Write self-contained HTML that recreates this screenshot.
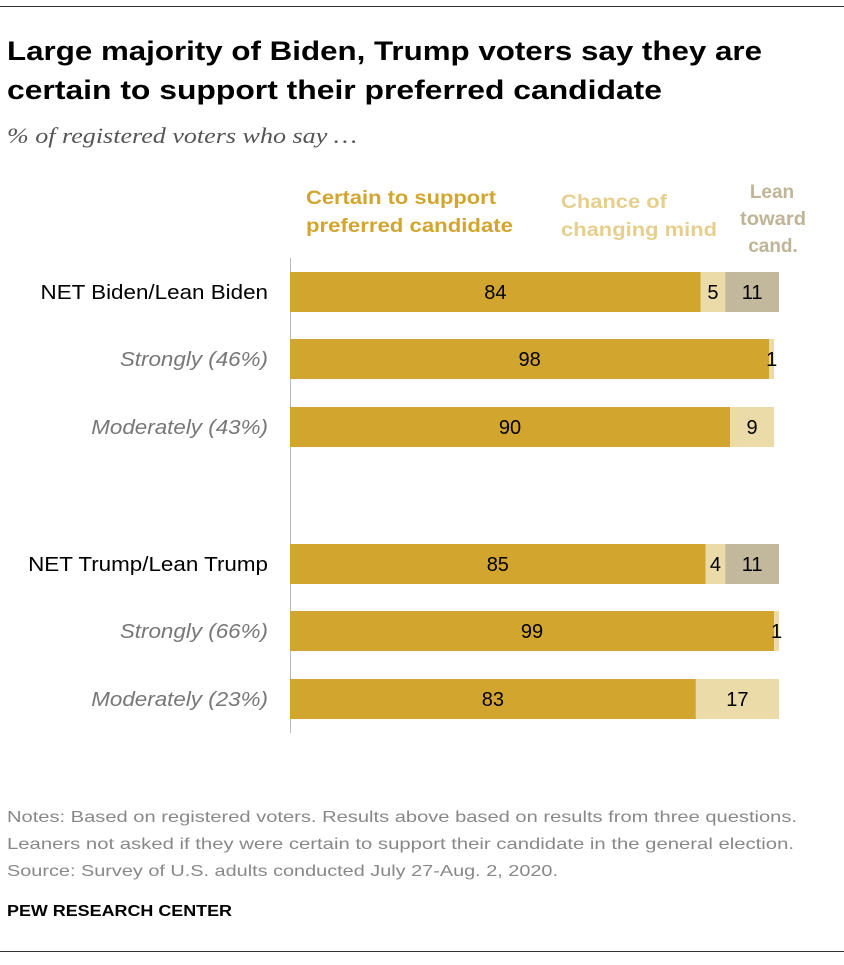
<!DOCTYPE html>
<html><head><meta charset="utf-8"><style>
body{margin:0;background:#fff;width:844px;height:960px;overflow:hidden;font-family:"Liberation Sans",sans-serif}
</style></head><body>
<svg width="844" height="960" xmlns="http://www.w3.org/2000/svg" font-family="Liberation Sans, sans-serif">
<line x1="0" y1="6.5" x2="844" y2="6.5" stroke="#333" stroke-width="1"/>
<text x="7" y="60" font-size="27" font-weight="bold" fill="#000" textLength="755" lengthAdjust="spacingAndGlyphs">Large majority of Biden, Trump voters say they are</text>
<text x="7" y="99" font-size="27" font-weight="bold" fill="#000" textLength="655" lengthAdjust="spacingAndGlyphs">certain to support their preferred candidate</text>
<text x="7" y="143" font-size="22" font-style="italic" fill="#555" font-family="Liberation Serif, serif" textLength="350" lengthAdjust="spacingAndGlyphs">% of registered voters who say …</text>
<g font-weight="bold" font-size="19">
<text x="306" y="204" fill="#D2A62E"><tspan x="306" textLength="190" lengthAdjust="spacingAndGlyphs">Certain to support</tspan><tspan x="306" dy="28" textLength="207" lengthAdjust="spacingAndGlyphs">preferred candidate</tspan></text>
<text x="561" y="208" fill="#E6CF8E"><tspan x="561" textLength="106" lengthAdjust="spacingAndGlyphs">Chance of</tspan><tspan x="561" dy="28" textLength="156" lengthAdjust="spacingAndGlyphs">changing mind</tspan></text>
<text x="772" y="198" fill="#BFB497" text-anchor="middle"><tspan x="772">Lean</tspan><tspan x="773" dy="27" textLength="66" lengthAdjust="spacingAndGlyphs">toward</tspan><tspan x="773" dy="27">cand.</tspan></text>
</g>
<line x1="290.5" y1="258" x2="290.5" y2="733" stroke="#bbb" stroke-width="1"/>
<g id="bars"></g>
<g font-size="16" fill="#888">
<text x="7" y="822" textLength="790" lengthAdjust="spacingAndGlyphs">Notes: Based on registered voters. Results above based on results from three questions.</text>
<text x="7" y="849" textLength="787" lengthAdjust="spacingAndGlyphs">Leaners not asked if they were certain to support their candidate in the general election.</text>
<text x="7" y="876" textLength="551" lengthAdjust="spacingAndGlyphs">Source: Survey of U.S. adults conducted July 27-Aug. 2, 2020.</text>
</g>
<text x="7" y="916" font-size="16" font-weight="bold" fill="#000" textLength="225" lengthAdjust="spacingAndGlyphs">PEW RESEARCH CENTER</text>
<line x1="0" y1="951.5" x2="844" y2="951.5" stroke="#333" stroke-width="1"/>
</svg>
<script>
const categories=["NET Biden/Lean Biden","Strongly (46%)","Moderately (43%)","NET Trump/Lean Trump","Strongly (66%)","Moderately (23%)"];
const italicRows=[false,true,true,false,true,true];
const certain=[84,98,90,85,99,83];
const chance=[5,1,9,4,1,17];
const lean=[11,0,0,11,0,0];
const rowY=[292,359,427,564,631,699];
const labelScale=1.12;
const x0=290, scale=4.89, barH=40;
const xs=v=>x0+v*scale;
const ns="http://www.w3.org/2000/svg";
const g=document.getElementById('bars');
function mk(tag,attrs){const e=document.createElementNS(ns,tag);for(const k in attrs)e.setAttribute(k,attrs[k]);g.appendChild(e);return e;}
categories.forEach((c,i)=>{
  const y=rowY[i];
  const lbl=mk('text',{x:268,y:y+7,'text-anchor':'end','font-size':20,fill:italicRows[i]?'#777':'#000','font-style':italicRows[i]?'italic':'normal'});
  lbl.textContent=c;
  
  
  const w0=lbl.getComputedTextLength();
  lbl.setAttribute('textLength',w0*labelScale);
  lbl.setAttribute('lengthAdjust','spacingAndGlyphs');
  const segs=[[certain[i],'#D2A62E'],[chance[i],'#EBDBA9'],[lean[i],'#C2B89B']];
  let acc=0;
  segs.forEach((s)=>{
    if(s[0]<=0)return;
    const w=s[0]*scale;
    const r=mk('rect',{x:xs(acc),y:y-barH/2,width:w,height:barH,fill:s[1]});
    
    
    const t=mk('text',{x:xs(acc)+w/2,y:y+7,'text-anchor':'middle','font-size':20,fill:'#000'});
    t.textContent=s[0];
    
    
    acc+=s[0];
  });
});
</script>
</body></html>
